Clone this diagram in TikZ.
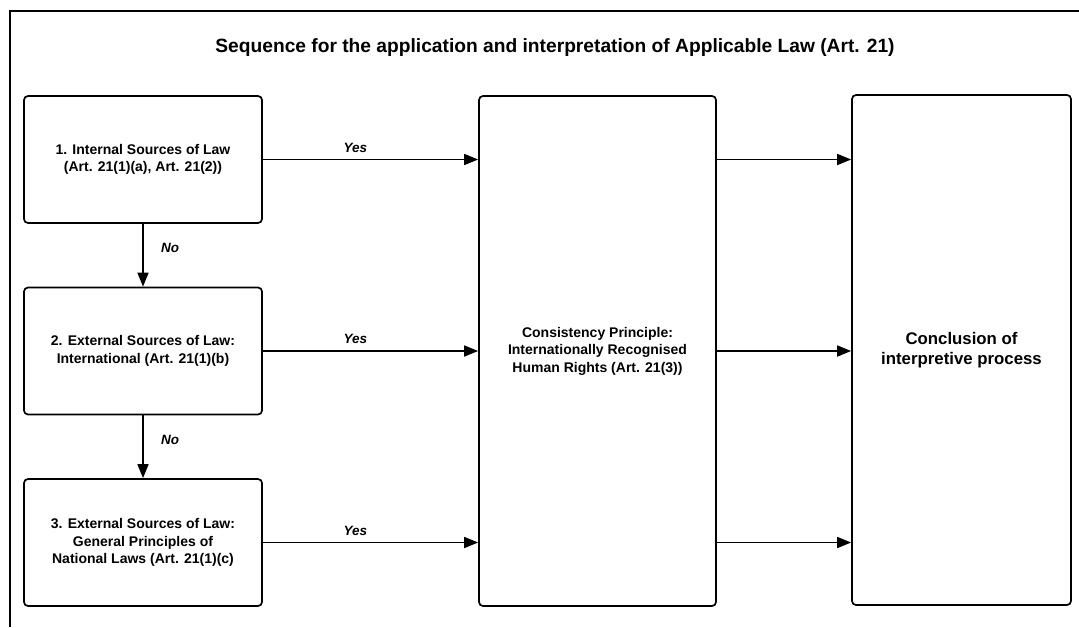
\documentclass[tikz,border=0pt]{standalone}
\usepackage{fontspec}
\setmainfont{Liberation Sans}
\usetikzlibrary{arrows.meta, positioning}

\begin{document}
\begin{tikzpicture}[
    x=1pt, y=-1pt,
    box/.style={draw, line width=1.7pt, rounded corners=4pt, align=center, font=\bfseries\fontsize{14}{17.5}\selectfont},
    srcbox/.style={box, minimum width=238pt, minimum height=127pt},
    tallbox/.style={box, minimum height=510pt},
    arr/.style={-{Triangle[length=14pt, width=11pt]}, line width=1.7pt},
    lbl/.style={font=\bfseries\itshape\fontsize{13.5}{15}\selectfont}
]
    \useasboundingbox (0,0) rectangle (1079,627);
    % Frame
    \draw[line width=2.2pt] (10,627) -- (10,11) -- (1079,11);

    % Title
    \node[font=\bfseries\fontsize{19.2}{23}\selectfont] (title) at (555,48) {Sequence for the application and interpretation of Applicable Law (Art. 21)};

    % Sources
    \node[srcbox] (src1) at (143,159.5) {1. Internal Sources of Law\\(Art. 21(1)(a), Art. 21(2))};
    \node[srcbox] (src2) at (143,351) {2. External Sources of Law:\\International (Art. 21(1)(b)};
    \node[srcbox] (src3) at (143,542.5) {3. External Sources of Law:\\General Principles of\\National Laws (Art. 21(1)(c)};

    % Principle and conclusion
    \node[tallbox, minimum width=237pt] (consist) at (597.5,351) {Consistency Principle:\\Internationally Recognised\\Human Rights (Art. 21(3))};
    \node[tallbox, minimum width=219pt, font=\bfseries\fontsize{16.8}{20}\selectfont] (concl) at (961.5,350) {Conclusion of\\interpretive process};

    % Yes arrows
    \foreach \s in {src1, src2, src3} {
        \draw[arr] (\s.east) -- (\s.east -| consist.west) node[lbl, pos=0.43, above=3pt] {Yes};
        \draw[arr] (\s.east -| consist.east) -- (\s.east -| concl.west);
    }

    % No arrows
    \draw[arr] (src1.south) -- (src2.north) node[lbl, midway, right=14pt, yshift=7pt] {No};
    \draw[arr] (src2.south) -- (src3.north) node[lbl, midway, right=14pt, yshift=7pt] {No};
\end{tikzpicture}
\end{document}
